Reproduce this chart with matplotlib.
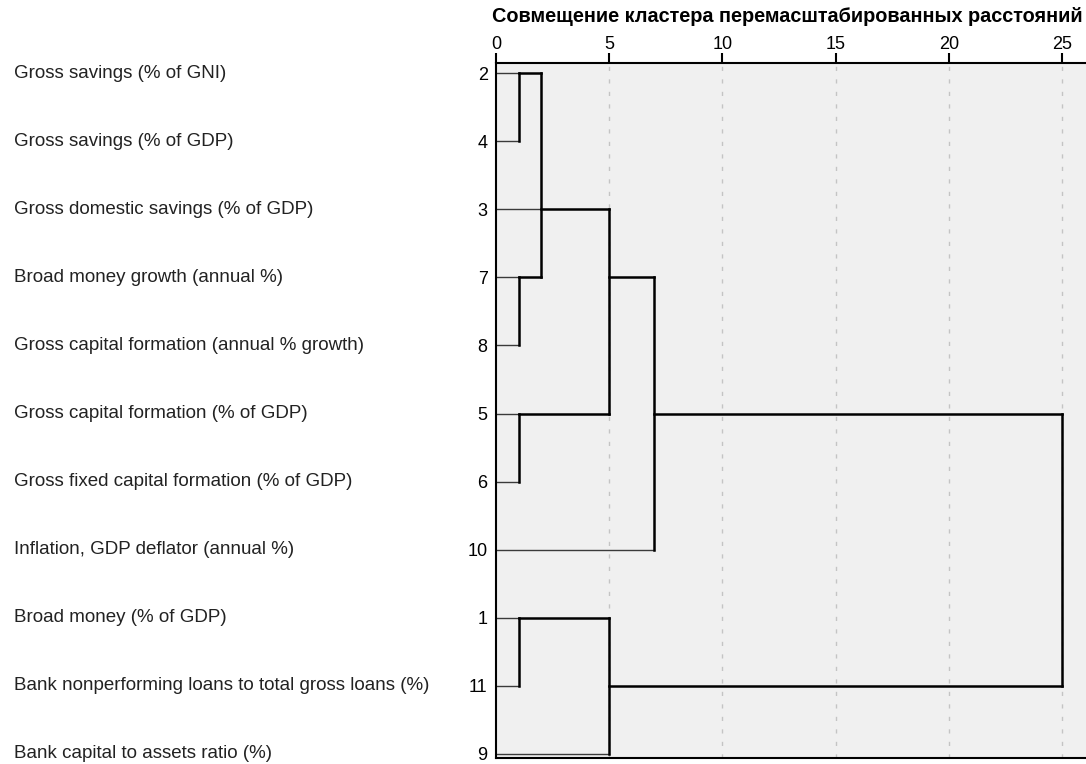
import matplotlib.pyplot as plt
import matplotlib.transforms as mtransforms

plt.rcParams['font.family'] = ['Liberation Sans', 'DejaVu Sans']

# leaves top to bottom
leaf_ids = [2, 4, 3, 7, 8, 5, 6, 10, 1, 11, 9]
leaf_names = [
    'Gross savings (% of GNI)',
    'Gross savings (% of GDP)',
    'Gross domestic savings (% of GDP)',
    'Broad money growth (annual %)',
    'Gross capital formation (annual % growth)',
    'Gross capital formation (% of GDP)',
    'Gross fixed capital formation (% of GDP)',
    'Inflation, GDP deflator (annual %)',
    'Broad money (% of GDP)',
    'Bank nonperforming loans to total gross loans (%)',
    'Bank capital to assets ratio (%)',
]
# rescaled distance at which each leaf first joins a cluster
leaf_join = [1, 1, 2, 1, 1, 1, 1, 7, 1, 1, 5]

# merges: rescaled distance, first row, last row, row the cluster continues on, parent merge
merge_dist = [1, 1, 1, 1, 2, 5, 7, 5, 25]
merge_top = [0, 3, 5, 8, 0, 2, 3, 8, 5]
merge_bottom = [1, 4, 6, 9, 3, 5, 7, 10, 9]
merge_row = [0, 3, 5, 8, 2, 3, 5, 9, 7]
merge_parent = [4, 4, 5, 7, 5, 6, 8, 8, None]

ticks = [0, 5, 10, 15, 20, 25]
title = 'Совмещение кластера перемасштабированных расстояний'

fig = plt.figure(figsize=(10.86, 7.64), dpi=100)
ax = fig.add_axes([496 / 1086, 6 / 764, 590 / 1086, 695 / 764])
ax.set_facecolor('#f0f0f0')

n = len(leaf_ids)
ax.set_xlim(0, 590 / 22.64)
ax.set_ylim(n - 1 + 0.06, -0.15)

for t in ticks[1:]:
    ax.axvline(t, color='#c4c4c4', lw=1, ls=(0, (3, 6)), zorder=1)

# leaf lines
for i in range(n):
    ax.plot([0, leaf_join[i]], [i, i], color='#3a3a3a', lw=1.0, zorder=2)

# cluster lines
for k in range(len(merge_dist)):
    d = merge_dist[k]
    ax.plot([d, d], [merge_top[k], merge_bottom[k]], color='black', lw=1.8,
            zorder=3, solid_capstyle='projecting')
    p = merge_parent[k]
    if p is not None:
        ax.plot([d, merge_dist[p]], [merge_row[k], merge_row[k]], color='black',
                lw=1.8, zorder=3, solid_capstyle='projecting')

ax.xaxis.tick_top()
ax.set_xticks(ticks)
ax.set_xticklabels([str(t) for t in ticks], fontsize=13)
ax.tick_params(axis='x', length=7, width=1.5, pad=0, color='black')

ax.set_yticks(range(n))
ax.set_yticklabels([str(v) for v in leaf_ids], fontsize=13)
ax.tick_params(axis='y', length=0, pad=6)

ax.spines['right'].set_visible(False)
for s in ['top', 'bottom', 'left']:
    ax.spines[s].set_linewidth(1.5)
    ax.spines[s].set_color('black')

trans = mtransforms.blended_transform_factory(fig.transFigure, ax.transData)
for i, name in enumerate(leaf_names):
    ax.text(14 / 1086, i, name, transform=trans, ha='left', va='center',
            fontsize=13.5, color='#222222', clip_on=False)

fig.text(787 / 1086, 1 - 17 / 764, title, ha='center', va='center',
         fontsize=14.3, fontweight='bold')

fig.savefig('out.png', dpi=100)
